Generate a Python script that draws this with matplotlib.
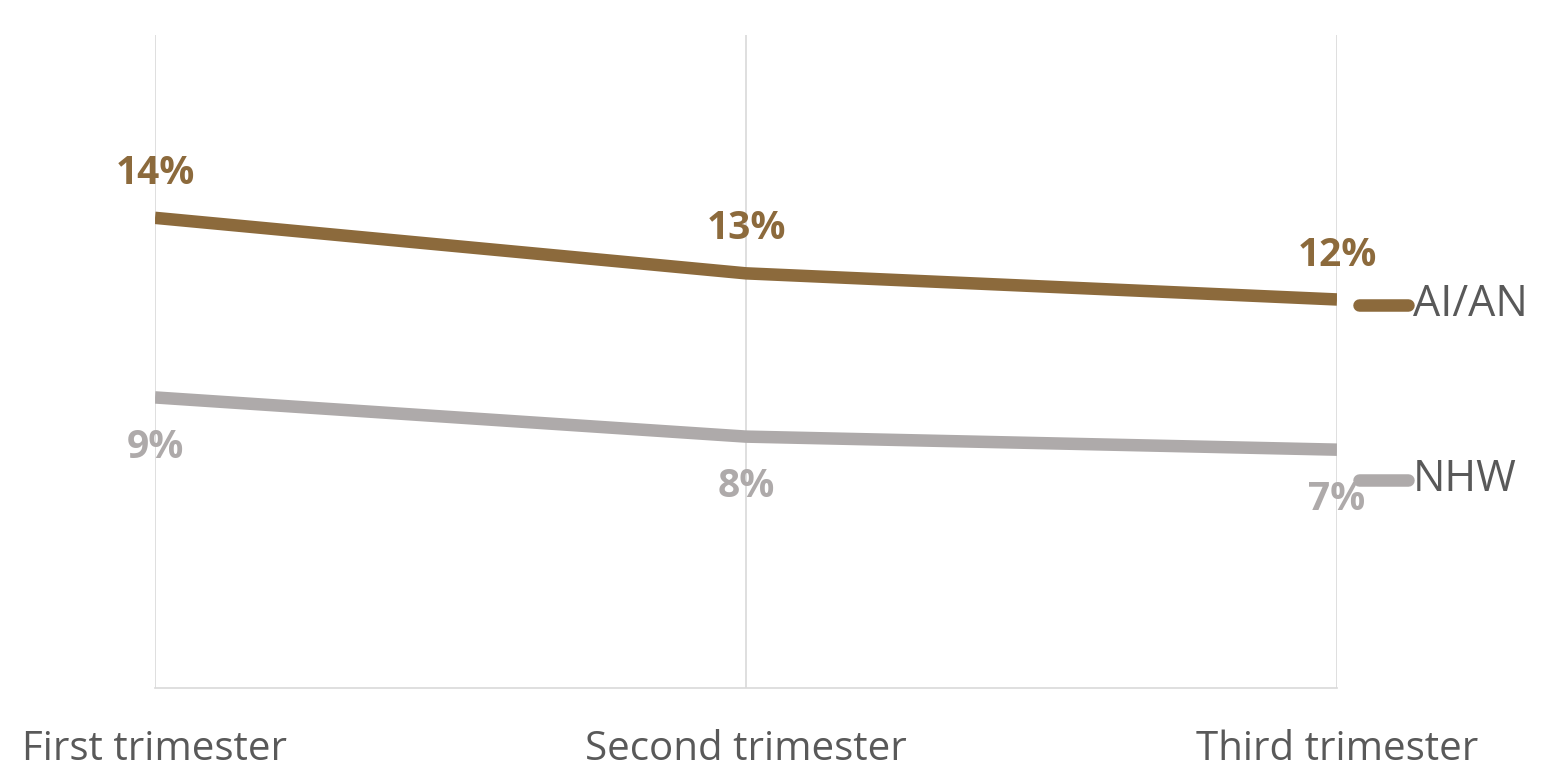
import matplotlib
matplotlib.use("Agg")
import matplotlib.pyplot as plt
from matplotlib.lines import Line2D

plt.rcParams['font.family'] = ['Open Sans', 'DejaVu Sans']

categories = ["First trimester", "Second trimester", "Third trimester"]
series_names = ["AI/AN", "NHW"]
aian_values = [14.4, 12.7, 11.9]
nhw_values = [8.9, 7.7, 7.3]

brown = "#8C6A3C"
grey = "#AEAAAA"
text_grey = "#595959"
grid_grey = "#D9D9D9"

fig = plt.figure(figsize=(15.5, 7.69), dpi=100)
ax = fig.add_axes([0.1, 0.1053, 0.7626, 0.8492])

x = list(range(len(categories)))
ax.plot(x, aian_values, color=brown, lw=9, solid_capstyle='butt', solid_joinstyle='round', zorder=3)
ax.plot(x, nhw_values, color=grey, lw=9, solid_capstyle='butt', solid_joinstyle='round', zorder=3)

for xi, v in zip(x, aian_values):
    ax.annotate(f"{v:.0f}%", (xi, v), xytext=(0, 32), textcoords='offset points',
                ha='center', va='center', fontsize=28, fontweight='bold', color=brown)
for xi, v in zip(x, nhw_values):
    ax.annotate(f"{v:.0f}%", (xi, v), xytext=(0, -36), textcoords='offset points',
                ha='center', va='center', fontsize=28, fontweight='bold', color=grey)

ax.set_xlim(0, 2)
ax.set_ylim(0, 20)
ax.set_xticks(x)
ax.set_xticklabels(categories, fontsize=29, color=text_grey)
ax.tick_params(axis='x', length=0, pad=30)
ax.set_yticks([])
ax.grid(axis='x', color=grid_grey, lw=1.2)
for side in ['top', 'right', 'left']:
    ax.spines[side].set_visible(False)
ax.spines['bottom'].set_color(grid_grey)
ax.spines['bottom'].set_linewidth(1.2)

# Series key on the right
W, H = 1550, 769
for name, color, ypx in [(series_names[0], brown, 305), (series_names[1], grey, 480)]:
    yf = 1 - ypx / H
    fig.add_artist(Line2D([1359 / W, 1408 / W], [yf, yf], color=color, lw=9,
                          solid_capstyle='round', transform=fig.transFigure))
    fig.text(1413 / W, yf, name, fontsize=31, color=text_grey, ha='left', va='center')

fig.savefig("out.png", dpi=100, facecolor='white')
